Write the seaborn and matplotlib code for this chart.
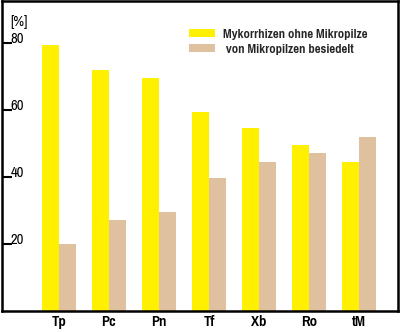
import matplotlib
matplotlib.use("Agg")
import matplotlib.pyplot as plt
import seaborn as sns
import pandas as pd

categories = ["Tp", "Pc", "Pn", "Tf", "Xb", "Ro", "tM"]
ohne = [79.4, 71.9, 69.6, 59.4, 54.6, 49.6, 44.5]
besiedelt = [20, 27.2, 29.6, 39.7, 44.5, 47.2, 51.9]
series = ["Mykorrhizen ohne Mikropilze", " von Mikropilzen besiedelt"]
yticks = [20, 40, 60, 80]

sns.set_theme(style="ticks", rc={
    "ytick.direction": "in", "ytick.major.size": 7, "ytick.major.width": 1.5,
    "ytick.left": True, "ytick.color": "black",
    "xtick.major.size": 0,
})
FAM = ["Pragati Narrow", "Liberation Sans", "DejaVu Sans"]
plt.rcParams["font.family"] = FAM

df = pd.DataFrame({
    "cat": categories * 2,
    "val": ohne + besiedelt,
    "ser": [series[0]] * len(categories) + [series[1]] * len(categories),
})

fig = plt.figure(figsize=(4.0, 3.32), dpi=100)
ax = fig.add_axes([2 / 400, (332 - 311) / 332, 396 / 400, 310 / 332])
sns.barplot(data=df, x="cat", y="val", hue="ser", order=categories,
            hue_order=series, palette=["#FFF000", "#DFC1A0"], width=0.68,
            saturation=1, linewidth=0, ax=ax, legend=True)

ax.set_xlim(-1.14, 6.78)
ax.set_ylim(0, 92.5)
for s in ax.spines.values():
    s.set_visible(True)
    s.set_color("black")
    s.set_linewidth(1.8)
ax.set_xlabel("")
ax.set_ylabel("")
ax.set_yticks(yticks)
ax.set_yticklabels([])
ax.tick_params(axis="y", direction="in", length=7, width=1.5, color="black", left=True)
ax.tick_params(axis="x", length=0, pad=3, labelcolor="black")
for lbl in ax.get_xticklabels():
    lbl.set_fontweight("bold")
    lbl.set_fontsize(11.5)

for t in yticks:
    ax.annotate(str(t), xy=(0, t), xycoords=("axes fraction", "data"),
                xytext=(6, -2), textcoords="offset points", ha="left", va="bottom",
                fontsize=11.5, color="black")
ax.annotate("[%]", xy=(0, 1), xycoords="axes fraction", xytext=(6, -20),
            textcoords="offset points", ha="left", va="bottom", fontsize=11.5,
            color="black")

handles, labels = ax.get_legend_handles_labels()
ax.legend(handles, labels, loc="upper left", bbox_to_anchor=(0.44, 0.95),
          frameon=False, handlelength=1.9, handleheight=0.55,
          handletextpad=0.55, labelspacing=0.25, prop={"family": FAM, "weight": "bold", "size": 10})

fig.savefig("out.png", dpi=100)
